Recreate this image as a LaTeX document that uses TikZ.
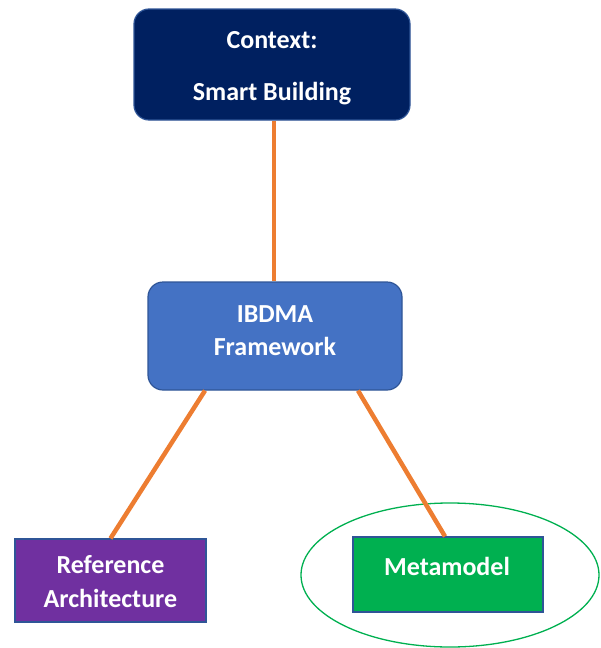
\documentclass[tikz,border=0pt]{standalone}
\usepackage{fontspec}
\setmainfont{Carlito}
\usetikzlibrary{calc,shapes.geometric}
\definecolor{navy}{HTML}{002060}
\definecolor{midblue}{HTML}{4472C4}
\definecolor{edgeblue}{HTML}{2F5597}
\definecolor{violet}{HTML}{7030A0}
\definecolor{leaf}{HTML}{00B050}
\definecolor{tangerine}{HTML}{ED7D31}
\tikzset{
  box/.style={draw=edgeblue, line width=1.2pt, inner sep=0pt},
  roundbox/.style={box, rounded corners=15pt},
  caption/.style={text=white, font=\fontsize{26}{30}\selectfont\bfseries, anchor=base, inner sep=0pt},
  link/.style={draw=tangerine, line width=4.5pt}
}
\begin{document}
\begin{tikzpicture}[x=1pt,y=-1pt]
\useasboundingbox (0,0) rectangle (601,648);
% boxes
\node[roundbox, fill=navy, minimum width=276pt, minimum height=111pt] (ctx) at (272,64.5) {};
\node[roundbox, fill=midblue, minimum width=254pt, minimum height=108pt] (fw) at (275,336) {};
\node[box, fill=violet, minimum width=191pt, minimum height=83pt] (ref) at (110.5,580.5) {};
\node[box, fill=leaf, minimum width=190pt, minimum height=75pt] (meta) at (448,574.5) {};
% ring around the metamodel
\node[draw=leaf, line width=1.3pt, ellipse, minimum width=298pt, minimum height=144pt, inner sep=0pt] (ring) at (450,575) {};
% labels
\node[caption] (t1) at (272,48) {Context:};
\node[caption] (t2) at (272,100) {Smart Building};
\node[caption] (t3) at (275,322) {IBDMA};
\node[caption] (t4) at (275,355) {Framework};
\node[caption] (t5) at (110.5,573) {Reference};
\node[caption] (t6) at (110.5,607) {Architecture};
\node[caption] (t7) at (447,575) {Metamodel};
% connectors
\coordinate (ctxB) at ($(ctx.south)+(2,0)$);
\coordinate (fwT) at ($(fw.north)+(-1,0)$);
\coordinate (fwL) at ($(fw.south)+(-70,0)$);
\coordinate (fwR) at ($(fw.south)+(83,0)$);
\coordinate (metaT) at ($(meta.north)+(-3,0)$);
\draw[link] (ctxB) -- (fwT);
\draw[link] (fwL) -- (ref.north);
\draw[link] (fwR) -- (metaT);
\end{tikzpicture}
\end{document}
